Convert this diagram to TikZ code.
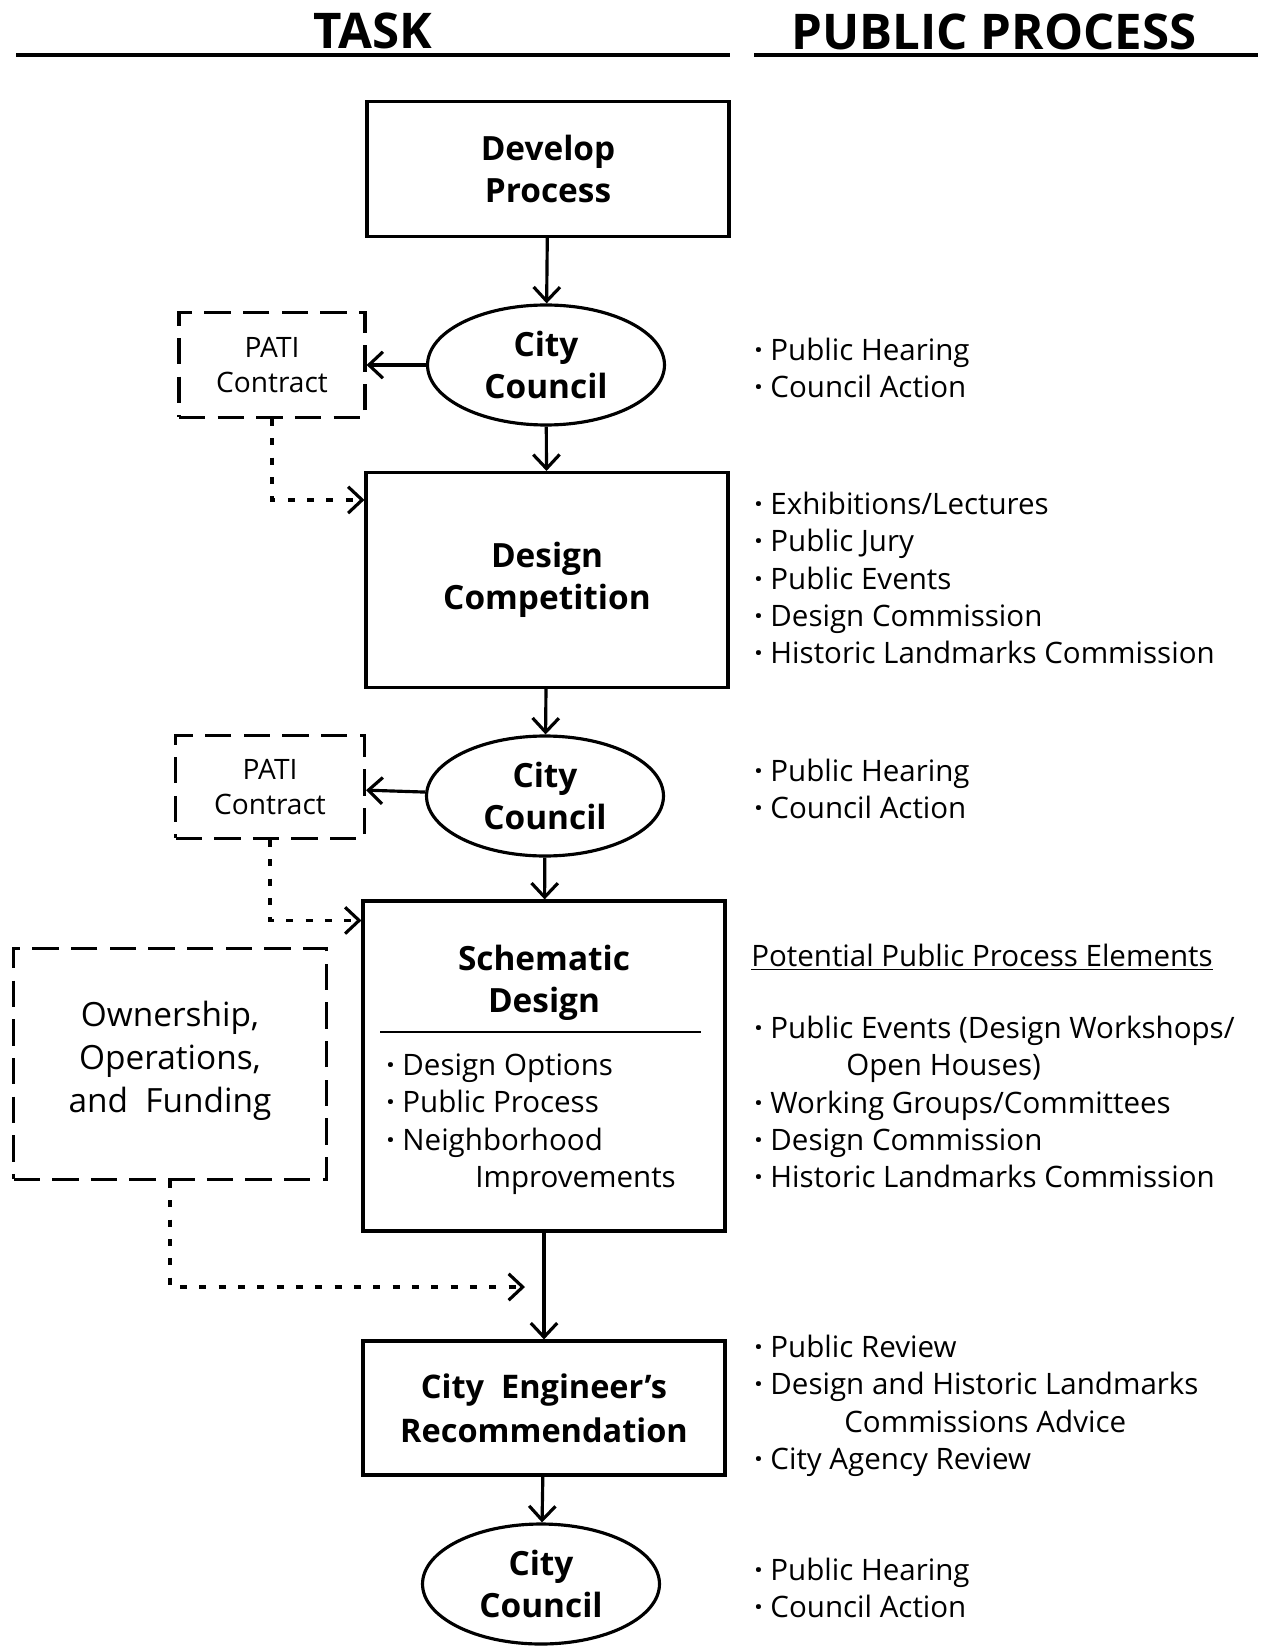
\documentclass[tikz,border=0pt]{standalone}
\usepackage{fontspec}
\setmainfont{Open Sans}
\usetikzlibrary{arrows.meta,shapes.geometric}

\tikzset{
	taskbox/.style = {draw, line width = 1.8pt, minimum width = 7.24cm, align = center,
		font = \fontsize{19}{24}\selectfont\bfseries},
	council/.style = {ellipse, draw, line width = 1.8pt, minimum width = 4.74cm, minimum height = 2.4cm,
		inner sep = 0pt, align = center, font = \fontsize{19}{24}\selectfont\bfseries},
	patibox/.style = {draw, line width = 1.8pt, dash pattern = on 15pt off 7pt, align = center,
		font = \fontsize{16}{20}\selectfont},
	flow/.style = {-{Straight Barb[length=8pt,width=15pt]}, line width = 1.8pt},
	dots/.style = {flow, dash pattern = on 4pt off 7pt},
	note/.style = {anchor = west, align = left, inner sep = 0pt, font = \fontsize{16.8}{21.3}\selectfont},
}
\newcommand{\pt}{\textbf{·}\ }

\begin{document}
\begin{tikzpicture}[x = 0.02cm, y = -0.02cm]
	\useasboundingbox (0,0) rectangle (1266,1648);

%headers
	\node[font = \fontsize{28}{32}\selectfont\bfseries] (task) at (373,31) {TASK};
	\node[font = \fontsize{28}{32}\selectfont\bfseries] (public) at (994,32) {PUBLIC PROCESS};
	\draw[line width = 2.4pt] (16,55) -- (730,55);
	\draw[line width = 2.4pt] (754,55) -- (1258,55);

%task column
	\node[taskbox, minimum height = 2.7cm] (develop) at (548,169) {Develop\\Process};
	\node[council] (cc1) at (546,365) {City\\Council};
	\node[taskbox, minimum height = 4.3cm] (design) at (547,580) {Design\\Competition};
	\node[council] (cc2) at (545,796) {City\\Council};
	\node[taskbox, minimum height = 6.6cm] (schematic) at (544,1066) {};
	\node[taskbox, minimum height = 2.68cm, font = \fontsize{18.5}{25}\selectfont\bfseries] (engineer) at (544,1408)
		{City\ \ Engineer's\\Recommendation};
	\node[council] (cc3) at (541,1584) {City\\Council};

%inside schematic design
	\node[font = \fontsize{19}{24}\selectfont\bfseries, align = center] (schtitle) at (544,983) {Schematic\\Design};
	\draw[line width = 1.2pt] (380,1032) -- (701,1032);
	\node[note] (schlist) at (386,1124) {\pt Design Options\\\pt Public Process\\\pt Neighborhood\\\hspace*{1.78cm}Improvements};

%side boxes
	\node[patibox, minimum width = 3.72cm, minimum height = 2.1cm] (pati1) at (272,365) {PATI\\Contract};
	\node[patibox, minimum width = 3.78cm, minimum height = 2.06cm] (pati2) at (270,787) {PATI\\Contract};
	\node[patibox, minimum width = 6.26cm, minimum height = 4.62cm] (own) at (170,1064) {};
	\node[font = \fontsize{19}{24.4}\selectfont, align = center] (owntext) at (170,1061)
		{Ownership,\\Operations,\\and\ \ Funding};
	\coordinate (ownin) at (525,1287);

%arrows
	\draw[flow] (develop) -- (cc1);
	\draw[flow] (cc1) -- (design);
	\draw[flow] (design) -- (cc2);
	\draw[flow] (cc2) -- (schematic);
	\draw[flow] (schematic) -- (engineer);
	\draw[flow] (engineer) -- (cc3);
	\draw[flow] (cc1) -- (pati1);
	\draw[flow] (cc2) -- (pati2);
	\draw[dots] (pati1.south) |- ([yshift=-0.58cm]design.north west);
	\draw[dots] (pati2.south) |- ([yshift=-0.42cm]schematic.north west);
	\draw[dots] (own.south) |- (ownin);

%public process column
	\node[note] (pp1) at (754,368) {\pt Public Hearing\\\pt Council Action};
	\node[note] (pp2) at (754,578) {\pt Exhibitions/Lectures\\\pt Public Jury\\\pt Public Events\\\pt Design Commission\\\pt Historic Landmarks Commission};
	\node[note] (pp3) at (754,789) {\pt Public Hearing\\\pt Council Action};
	\node[note] (pp4) at (751,957) {\underline{Potential Public Process Elements}};
	\node[note] (pp5) at (754,1102) {\pt Public Events (Design Workshops/\\\hspace*{1.84cm}Open Houses)\\\pt Working Groups/Committees\\\pt Design Commission\\\pt Historic Landmarks Commission};
	\node[note] (pp6) at (754,1406) {\pt Public Review\\\pt Design and Historic Landmarks\\\hspace*{1.8cm}Commissions Advice\\\pt City Agency Review};
	\node[note] (pp7) at (754,1588) {\pt Public Hearing\\\pt Council Action};
\end{tikzpicture}
\end{document}
